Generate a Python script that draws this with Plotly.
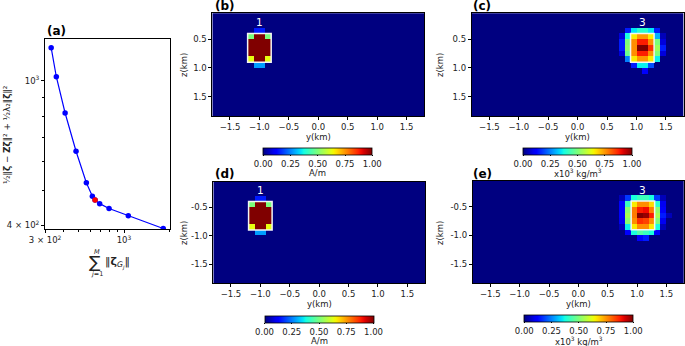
import numpy as np
import plotly.graph_objects as go

W, H = 685, 346

# ---------------- Panel (a): L-curve ----------------
lc_x = [329, 356, 407, 481, 563, 617, 643, 690, 796, 1068, 1820]
lc_y = [1235, 1027, 816, 640, 524, 481, 470, 459, 445, 425, 392]
sel_idx = 6

# ---------------- Heat-map grid (cell centres, km) ----------------
grid_y = np.round(np.arange(-1.75, 1.751, 0.1), 2)
grid_z = np.round(np.arange(0.05, 1.851, 0.1), 2)

# magnetization blocks (A/m), rows: z 0.35..0.95, cols: y -1.15..-0.85
mag_b = [
    [0.00, 0.15, 0.15, 0.00],
    [0.50, 1.00, 1.00, 0.50],
    [1.00, 1.00, 1.00, 1.00],
    [1.00, 1.00, 1.00, 1.00],
    [1.00, 1.00, 1.00, 1.00],
    [0.63, 1.00, 1.00, 0.63],
    [0.00, 0.28, 0.28, 0.00],
]
mag_d = [
    [0.00, 0.15, 0.15, 0.00],
    [0.50, 1.00, 1.00, 0.50],
    [1.00, 1.00, 1.00, 1.00],
    [1.00, 1.00, 1.00, 1.00],
    [1.00, 1.00, 1.00, 1.00],
    [0.63, 1.00, 1.00, 0.63],
    [0.00, 0.28, 0.28, 0.00],
]
mag_y0, mag_z0 = -1.15, 0.35

# density blocks (x10^3 kg/m^3), rows: z 0.35..1.05, cols: y 0.65..1.55
dens_c = [
    [0, 0.00, 0.15, 0.35, 0.40, 0.40, 0.35, 0.15, 0.00, 0],
    [0, 0.08, 0.38, 0.66, 0.75, 0.75, 0.66, 0.30, 0.05, 0],
    [0, 0.15, 0.50, 0.76, 0.88, 0.88, 0.76, 0.50, 0.08, 0],
    [0, 0.15, 0.52, 0.76, 1.00, 1.00, 0.86, 0.54, 0.15, 0],
    [0, 0.08, 0.48, 0.76, 0.88, 0.88, 0.76, 0.50, 0.08, 0],
    [0, 0.00, 0.25, 0.66, 0.75, 0.75, 0.66, 0.36, 0.00, 0],
    [0, 0.00, 0.00, 0.15, 0.36, 0.36, 0.20, 0.00, 0.00, 0],
    [0, 0.00, 0.00, 0.00, 0.00, 0.12, 0.00, 0.00, 0.00, 0],
]
dens_e = [
    [0, 0.05, 0.18, 0.38, 0.42, 0.42, 0.38, 0.18, 0.05, 0],
    [0, 0.12, 0.42, 0.66, 0.76, 0.76, 0.68, 0.40, 0.10, 0],
    [0, 0.12, 0.52, 0.78, 0.88, 0.90, 0.78, 0.52, 0.12, 0],
    [0, 0.12, 0.55, 0.78, 1.00, 0.98, 0.88, 0.55, 0.15, 0.05],
    [0, 0.10, 0.52, 0.76, 0.86, 0.84, 0.76, 0.50, 0.10, 0],
    [0, 0.05, 0.36, 0.66, 0.76, 0.76, 0.66, 0.38, 0.05, 0],
    [0, 0.00, 0.12, 0.38, 0.45, 0.42, 0.38, 0.12, 0.00, 0],
    [0, 0.00, 0.00, 0.00, 0.12, 0.15, 0.00, 0.00, 0.00, 0],
]
dens_y0, dens_z0 = 0.65, 0.35

# true-source outlines (y0, y1, z0, z1) and labels
src1 = (-1.2, -0.8, 0.4, 0.9)
src3 = (0.9, 1.3, 0.4, 0.9)
lab1, lab3 = "1", "3"

cb_vals = [0, 0.25, 0.5, 0.75, 1.0]
cb_text = ["0.00", "0.25", "0.50", "0.75", "1.00"]


def place(block, y0, z0):
    g = np.zeros((len(grid_z), len(grid_y)))
    b = np.array(block, dtype=float)
    iy = int(round((y0 - grid_y[0]) / 0.1))
    iz = int(round((z0 - grid_z[0]) / 0.1))
    g[iz:iz + b.shape[0], iy:iy + b.shape[1]] = b
    return g


def mpl_jet(n=41):
    xs = np.linspace(0, 1, n)
    r = np.interp(xs, [0, 0.35, 0.66, 0.89, 1], [0, 0, 1, 1, 0.5])
    g = np.interp(xs, [0, 0.125, 0.375, 0.64, 0.91, 1], [0, 0, 1, 1, 0, 0])
    b = np.interp(xs, [0, 0.11, 0.34, 0.65, 1], [0.5, 1, 1, 0, 0])
    return [[float(x), f"rgb({int(round(rr*255))},{int(round(gg*255))},{int(round(bb*255))})"]
            for x, rr, gg, bb in zip(xs, r, g, b)]


JET = mpl_jet()
FONT = "DejaVu Sans"
TXT = "#222222"


def px(x):
    return x / W


def py(y):
    return 1 - y / H


def note(text, x, y, size=8.5, color=TXT, angle=0, xanchor="center"):
    return dict(xref="paper", yref="paper", x=px(x), y=py(y), text=text,
                xanchor=xanchor, yanchor="middle", textangle=angle, showarrow=False,
                font=dict(family=FONT, size=size, color=color))


fig = go.Figure()

# L-curve
fig.add_trace(go.Scatter(x=lc_x, y=lc_y, mode="lines+markers",
                         line=dict(color="#0000ff", width=1.2),
                         marker=dict(color="#0000ff", size=5.5),
                         xaxis="x", yaxis="y", showlegend=False, hoverinfo="skip"))
fig.add_trace(go.Scatter(x=[lc_x[sel_idx]], y=[lc_y[sel_idx]], mode="markers",
                         marker=dict(color="#ff0000", size=5.5),
                         xaxis="x", yaxis="y", showlegend=False, hoverinfo="skip"))

panels = [
    # (grid, axis id, colorbar center x px, colorbar top y px, negative z)
    (place(mag_b, mag_y0, mag_z0), 2, 317.8, 147.7, False),
    (place(dens_c, dens_y0, dens_z0), 3, 577.5, 147.7, False),
    (place(mag_d, mag_y0, mag_z0), 4, 319.0, 315.7, True),
    (place(dens_e, dens_y0, dens_z0), 5, 578.8, 315.2, True),
]

for g, k, cbx, cby, neg in panels:
    zc = -grid_z if neg else grid_z
    fig.add_trace(go.Heatmap(
        x=grid_y, y=zc, z=g, colorscale=JET, zmin=0, zmax=1,
        xaxis=f"x{k}", yaxis=f"y{k}", hoverinfo="skip",
        colorbar=dict(orientation="h", x=px(cbx), xanchor="center",
                      y=py(cby), yanchor="top", len=109 / W, lenmode="fraction",
                      thickness=6.5, xpad=0, ypad=0,
                      outlinewidth=0.8, outlinecolor="black",
                      tickvals=cb_vals, ticktext=cb_text, ticks="outside",
                      ticklen=1.5, tickcolor="black",
                      tickfont=dict(family=FONT, size=8.5, color=TXT))))

layout = dict(
    width=W, height=H, margin=dict(l=0, r=0, t=0, b=0, autoexpand=False),
    paper_bgcolor="white", plot_bgcolor="white", showlegend=False,
    font=dict(family=FONT, size=8.5, color=TXT),
)

axcommon = dict(showline=True, mirror=True, linecolor="black", linewidth=0.8,
                showgrid=False, zeroline=False, ticks="outside", ticklen=3,
                tickcolor="black", automargin=False,
                tickfont=dict(family=FONT, size=8.5, color=TXT))

layout["xaxis"] = dict(axcommon, type="log", domain=[px(45), px(170)],
                       range=[np.log10(299.5), np.log10(2018)],
                       tickmode="array", tickvals=[300, 1000],
                       ticktext=["3 × 10<sup>2</sup>", "10<sup>3</sup>"],
                       minor=dict(tickmode="array", tickvals=[400, 500, 600, 700, 800, 900, 2000],
                                  ticks="outside", ticklen=2, tickcolor="black", showgrid=False),
                       anchor="y")
layout["yaxis"] = dict(axcommon, type="log", domain=[py(229.3), py(39)],
                       range=[np.log10(390), np.log10(1305)],
                       tickmode="array", tickvals=[400, 1000],
                       ticktext=["4 × 10<sup>2</sup>", "10<sup>3</sup>"],
                       minor=dict(tickmode="array", tickvals=[500, 600, 700, 800, 900],
                                  ticks="outside", ticklen=2, tickcolor="black", showgrid=False),
                       anchor="x")

doms = {
    2: ([212.3, 424.3], [116, 13.3]),
    3: ([471.7, 683.5], [116, 13.3]),
    4: ([213.3, 425.0], [283.3, 181.5]),
    5: ([472.7, 684.0], [283.3, 181.0]),
}
ytick_pos = [0.5, 1.0, 1.5]
ytick_txt = ["0.5", "1.0", "1.5"]
ytick_txt_neg = ["-0.5", "-1.0", "-1.5"]
xtick_pos = [-1.5, -1.0, -0.5, 0.0, 0.5, 1.0, 1.5]
xtick_txt = ["−1.5", "−1.0", "−0.5", "0.0", "0.5", "1.0", "1.5"]

for k, (dx, dy) in doms.items():
    neg = k in (4, 5)
    layout[f"xaxis{k}"] = dict(axcommon, domain=[px(dx[0]), px(dx[1])],
                               range=[-1.8, 1.8], anchor=f"y{k}",
                               tickmode="array", tickvals=xtick_pos, ticktext=xtick_txt)
    if neg:
        layout[f"yaxis{k}"] = dict(axcommon, domain=[py(dy[0]), py(dy[1])],
                                   range=[-1.835, -0.05], anchor=f"x{k}",
                                   tickmode="array", tickvals=[-v for v in ytick_pos],
                                   ticktext=ytick_txt_neg)
    else:
        layout[f"yaxis{k}"] = dict(axcommon, domain=[py(dy[0]), py(dy[1])],
                                   range=[1.835, 0.05], anchor=f"x{k}",
                                   tickmode="array", tickvals=ytick_pos, ticktext=ytick_txt)

fig.update_layout(**layout)

# source outlines and labels
shapes = []
annots = []
for k, src, lab, neg in [(2, src1, lab1, False), (3, src3, lab3, False),
                         (4, src1, lab1, True), (5, src3, lab3, True)]:
    y0, y1, z0, z1 = src
    s = -1 if neg else 1
    shapes.append(dict(type="rect", xref=f"x{k}", yref=f"y{k}", x0=y0, x1=y1,
                       y0=s * z0, y1=s * z1, line=dict(color="#f4f4f4", width=1.5)))
    annots.append(dict(xref=f"x{k}", yref=f"y{k}", x=(y0 + y1) / 2, y=s * 0.2,
                       xanchor="center", yanchor="middle",
                       text=lab, showarrow=False,
                       font=dict(family=FONT, size=10.5, color="white")))

# panel letters
for t, x, y in [("(a)", 45, 31), ("(b)", 213, 6), ("(c)", 470.5, 6),
                ("(d)", 213, 174), ("(e)", 471.5, 174)]:
    annots.append(note(f"<b>{t}</b>", x, y, size=12, color="black", xanchor="left"))

# axis titles on heat maps
for x, y in [(184, 65), (440, 65), (184, 233), (440, 233)]:
    annots.append(note("z(km)", x, y, angle=-90))
for x, y in [(318.3, 136.5), (577.6, 136.5), (319.1, 303.5), (578.3, 303.5)]:
    annots.append(note("y(km)", x, y))

# colorbar titles
for t, x, y in [("A/m", 317.8, 172.5), ("x10<sup>3</sup> kg/m<sup>3</sup>", 577.5, 173),
                ("A/m", 319.0, 340.5), ("x10<sup>3</sup> kg/m<sup>3</sup>", 578.8, 340.5)]:
    annots.append(note(t, x, y))

# L-curve axis labels
annots.append(note("½‖<b>ζ</b> − <b>Zζ</b>‖² + ½λ₂‖<b>ζ</b>‖²", 7, 135, size=8.8, angle=-90))
annots.append(note("∑", 94.5, 262, size=17))
annots.append(note("<i>M</i>", 96.5, 252, size=6.5))
annots.append(note("<i>j</i>=1", 96.5, 274, size=6.5))
annots.append(note("‖<b>ζ</b><sub><i>G<sub>j</sub></i></sub>‖", 103, 263, size=11, xanchor="left"))

fig.update_layout(shapes=shapes, annotations=annots)
fig.write_html("out.html", config={"displayModeBar": False},
               post_script="document.body.style.margin='0';document.body.style.padding='0';")
